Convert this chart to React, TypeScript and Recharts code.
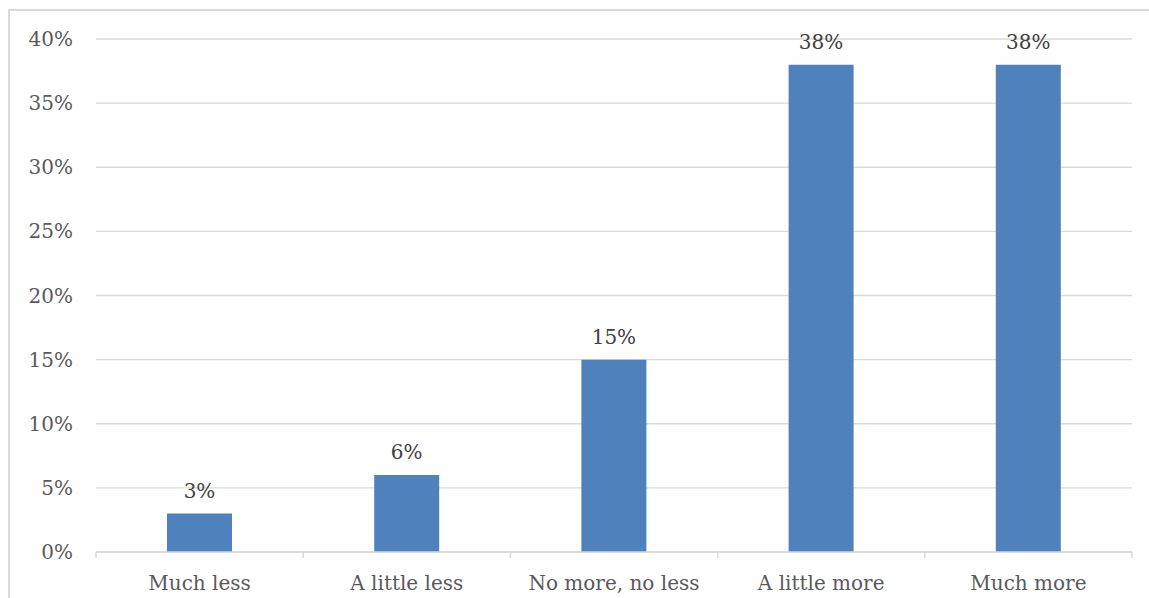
import { BarChart, Bar, XAxis, YAxis, CartesianGrid, LabelList } from "recharts";

// survey answers and their share of respondents (%)
const categories = ["Much less", "A little less", "No more, no less", "A little more", "Much more"];
const shares = [3, 6, 15, 38, 38];
const yTicks = [0, 5, 10, 15, 20, 25, 30, 35, 40];

const data = categories.map((name, i) => ({ name, share: shares[i] }));

const WIDTH = 1149;
const HEIGHT = 598;
const Y_AXIS_W = 96;
const MARGIN = { top: 39, right: 17, bottom: 0, left: 0 };
const X_AXIS_H = 46;
const PLOT_BOTTOM = HEIGHT - X_AXIS_H;
const STEP = (WIDTH - MARGIN.right - Y_AXIS_W) / categories.length;

const GRID = "#D9D9D9";
const FONT = "'DejaVu Serif', 'Liberation Serif', serif";

function CategoryTick(props: any) {
  const { x, payload, index } = props;
  const half = STEP / 2;
  return (
    <g>
      <line x1={x - half} x2={x - half} y1={PLOT_BOTTOM} y2={PLOT_BOTTOM + 6} stroke={GRID} strokeWidth={1.5} />
      {index === categories.length - 1 && (
        <line x1={x + half} x2={x + half} y1={PLOT_BOTTOM} y2={PLOT_BOTTOM + 6} stroke={GRID} strokeWidth={1.5} />
      )}
      <text x={x} y={PLOT_BOTTOM + 38} textAnchor="middle" fill="#595959" fontSize={20} fontFamily={FONT}>
        {payload.value}
      </text>
    </g>
  );
}

export default function App() {
  return (
    <div
      style={{
        position: "absolute",
        left: 0,
        top: 0,
        width: WIDTH,
        height: HEIGHT,
        overflow: "hidden",
        background: "#fff",
      }}
    >
      <div
        style={{
          position: "absolute",
          left: 8,
          top: 9,
          width: 1300,
          height: 800,
          border: `2px solid ${GRID}`,
        }}
      />
      <div style={{ position: "absolute", left: 0, top: 0 }}>
        <BarChart width={WIDTH} height={HEIGHT} data={data} margin={MARGIN}>
          <CartesianGrid vertical={false} stroke={GRID} strokeWidth={1.3} />
          <XAxis
            dataKey="name"
            height={X_AXIS_H}
            axisLine={{ stroke: GRID, strokeWidth: 1.5 }}
            tickLine={false}
            interval={0}
            tick={<CategoryTick />}
          />
          <YAxis
            width={Y_AXIS_W}
            domain={[0, 40]}
            ticks={yTicks}
            tickFormatter={(v: number) => `${v}%`}
            axisLine={false}
            tickLine={false}
            tickSize={6}
            tickMargin={17}
            tick={{ fill: "#595959", fontSize: 20, fontFamily: FONT }}
          />
          <Bar dataKey="share" fill="#4F81BD" barSize={65} isAnimationActive={false}>
            <LabelList
              dataKey="share"
              position="top"
              offset={16}
              formatter={(v: any) => `${v}%`}
              fill="#404040"
              fontSize={20}
              fontFamily={FONT}
            />
          </Bar>
        </BarChart>
      </div>
    </div>
  );
}
